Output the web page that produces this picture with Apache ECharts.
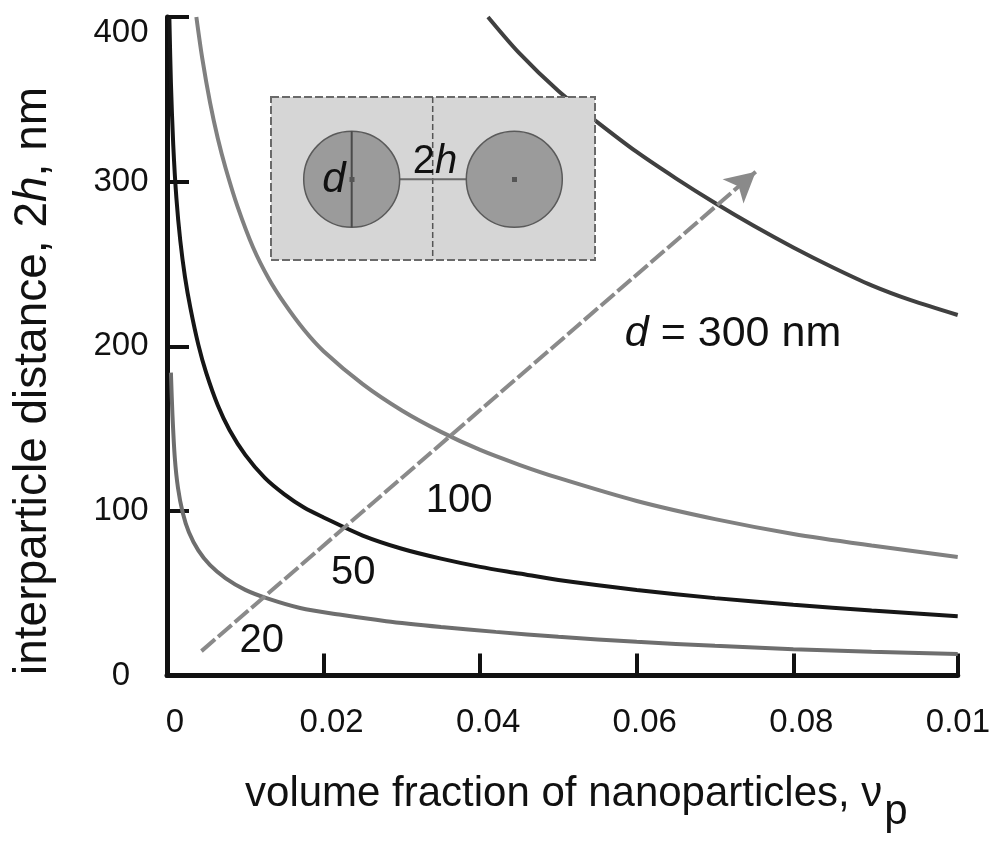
<!DOCTYPE html>
<html><head><meta charset="utf-8">
<script src="https://cdn.jsdelivr.net/npm/echarts@6/dist/echarts.min.js"></script>
<style>html,body{margin:0;padding:0;background:#fff}#c{width:993px;height:846px}</style>
</head><body><div id="c"></div>
<script>
// ---- data ----
const xTickValues = [0, 0.02, 0.04, 0.06, 0.08, 0.1];
const xTickLabels = ['0', '0.02', '0.04', '0.06', '0.08', '0.01'];
const yTickValues = [0, 100, 200, 300, 400];

const d20X = [0.0005, 0.0007, 0.001, 0.0014, 0.002, 0.0028, 0.004, 0.0055, 0.0075, 0.01, 0.013, 0.017, 0.022, 0.028, 0.035, 0.042, 0.05, 0.06, 0.07, 0.08, 0.09, 0.101];
const d20Y = [184, 158, 132, 114, 99, 87, 76, 67, 59, 52, 46.5, 41, 37, 33, 29.5, 26.5, 23.5, 20.5, 18, 16, 14.5, 13];

const d50X = [0.0003, 0.0005, 0.0008, 0.0012, 0.0017, 0.0023, 0.003, 0.004, 0.005, 0.0065, 0.008, 0.01, 0.0125, 0.015, 0.0175, 0.02, 0.025, 0.03, 0.035, 0.04, 0.045, 0.05, 0.06, 0.07, 0.08, 0.09, 0.101];
const d50Y = [400, 360, 322, 290, 264, 242, 223, 201, 184, 164, 149, 134, 120, 110, 102, 96, 85, 77, 71, 66, 62, 58, 52, 47, 43, 39.5, 36];

const d100X = [0.00375, 0.0045, 0.0055, 0.0065, 0.0075, 0.009, 0.011, 0.013, 0.015, 0.0175, 0.02, 0.025, 0.03, 0.035, 0.04, 0.045, 0.05, 0.06, 0.07, 0.08, 0.09, 0.101];
const d100Y = [400, 375, 348, 326, 308, 285, 260, 241, 226, 210, 197, 177, 161, 148, 137, 128, 120, 106, 95, 86, 79, 72];

const d300X = [0.041, 0.045, 0.05, 0.055, 0.06, 0.065, 0.07, 0.075, 0.08, 0.085, 0.09, 0.095, 0.101];
const d300Y = [400, 378, 355, 336, 318, 302, 287, 273, 260, 248, 237, 228, 219];

const arrowStart = [0.0044, 14.8];
const arrowEnd = [0.0752, 306];

const curveLabels = ['20', '50', '100'];
const curveLabelPos = [[0.0121, 21.2], [0.0238, 62.5], [0.0373, 106]];
const bigLabelPos = [0.0723, 207.6];

// ---- chart ----
const FONT = 'Liberation Sans, Arial, sans-serif';
const zip = (xs, ys) => xs.map((x, i) => [x, ys[i]]);
const chart = echarts.init(document.getElementById('c'), null, {renderer: 'canvas'});

function lineSeries(name, xs, ys, color) {
  return {
    name, type: 'line', data: zip(xs, ys), showSymbol: false, smooth: 0.3,
    lineStyle: {color, width: 4}, z: 3, silent: true
  };
}

const series = [
  lineSeries('d20', d20X, d20Y, '#6e6e6e'),
  lineSeries('d50', d50X, d50Y, '#161616'),
  lineSeries('d100', d100X, d100Y, '#808080'),
  lineSeries('d300', d300X, d300Y, '#404040')
];
series[0].markLine = {
  silent: true, symbol: ['none', 'arrow'], symbolSize: [24, 30],
  label: {show: false},
  lineStyle: {color: '#8a8a8a', width: 4, type: [18, 4]},
  data: [[{coord: arrowStart}, {coord: arrowEnd}]]
};

chart.setOption({
  animation: false,
  backgroundColor: '#ffffff',
  grid: {left: 167, right: 25.5, top: 17, bottom: 170.5, containLabel: false},
  xAxis: {
    type: 'value', min: 0, max: 0.101,
    name: '{a|volume fraction of nanoparticles, ν}{s|p}',
    nameLocation: 'middle', nameGap: 98,
    nameTextStyle: {
      padding: [0, 0, 0, 28],
      rich: {
        a: {fontFamily: FONT, fontSize: 42, color: '#111', lineHeight: 46, verticalAlign: 'top'},
        s: {fontFamily: FONT, fontSize: 42, color: '#111', lineHeight: 46, padding: [18, 0, 0, 2], verticalAlign: 'top'}
      }
    },
    axisLine: {lineStyle: {color: '#111', width: 5}},
    axisTick: {show: true, inside: true, length: 22, lineStyle: {color: '#111', width: 4},
               customValues: [0.02, 0.04, 0.06, 0.08, 0.101]},
    axisLabel: {
      customValues: xTickValues,
      formatter: v => { const i = xTickValues.findIndex(t => Math.abs(t - v) < 1e-9); return i >= 0 ? xTickLabels[i] : ''; },
      fontFamily: FONT, fontSize: 33, color: '#111', margin: 31, padding: [0, 0, 0, 16]
    },
    splitLine: {show: false}
  },
  yAxis: {
    type: 'value', min: 0, max: 400, interval: 100,
    axisLine: {show: true, lineStyle: {color: '#111', width: 5}},
    axisTick: {show: true, inside: true, length: 22, lineStyle: {color: '#111', width: 4}},
    axisLabel: {
      formatter: v => v === 400 ? '{t|400}' : '{n|' + v + '}',
      align: 'center', margin: 46,
      rich: {
        t: {fontFamily: FONT, fontSize: 33, color: '#111', padding: [32, 0, 0, 0]},
        n: {fontFamily: FONT, fontSize: 33, color: '#111'}
      }
    },
    splitLine: {show: false}
  },
  series
});

// annotation texts and inset sketch
const g = [];
curveLabels.forEach((t, i) => {
  const p = chart.convertToPixel({gridIndex: 0}, curveLabelPos[i]);
  g.push({type: 'text', x: p[0], y: p[1], z: 20,
    style: {text: t, fontFamily: FONT, fontSize: 40, fill: '#111', align: 'center', verticalAlign: 'middle'}});
});
const bp = chart.convertToPixel({gridIndex: 0}, bigLabelPos);
g.push({type: 'text', x: bp[0], y: bp[1], z: 20,
  style: {text: '{i|d}{n| = 300 nm}', align: 'center', verticalAlign: 'middle',
    rich: {i: {fontFamily: FONT, fontStyle: 'italic', fontSize: 43, fill: '#111'},
           n: {fontFamily: FONT, fontSize: 43, fill: '#111'}}}});
// y axis title
g.push({type: 'text', x: 33, y: 381, rotation: Math.PI / 2, z: 20,
  style: {text: '{a|interparticle distance, 2}{i|h}{a|, nm}', align: 'center', verticalAlign: 'middle',
    rich: {a: {fontFamily: FONT, fontSize: 46, fill: '#111'},
           i: {fontFamily: FONT, fontStyle: 'italic', fontSize: 46, fill: '#111'}}}});
// inset
g.push({type: 'group', z: 30, children: [
  {type: 'rect', shape: {x: 271, y: 97, width: 324, height: 163}, z: 30,
   style: {fill: '#d6d6d6', stroke: '#6a6a6a', lineWidth: 2, lineDash: [8, 3]}},
  {type: 'line', shape: {x1: 432.7, y1: 97, x2: 432.7, y2: 260}, z: 31,
   style: {stroke: '#555', lineWidth: 1.5, lineDash: [6, 3]}},
  {type: 'line', shape: {x1: 399, y1: 179.3, x2: 467, y2: 179.3}, z: 31,
   style: {stroke: '#6a6a6a', lineWidth: 2}},
  {type: 'circle', shape: {cx: 351.7, cy: 179.3, r: 48}, z: 32,
   style: {fill: '#9b9b9b', stroke: '#5a5a5a', lineWidth: 1.5}},
  {type: 'circle', shape: {cx: 514.3, cy: 179.3, r: 48}, z: 32,
   style: {fill: '#9b9b9b', stroke: '#5a5a5a', lineWidth: 1.5}},
  {type: 'line', shape: {x1: 351.7, y1: 131.3, x2: 351.7, y2: 227.3}, z: 33,
   style: {stroke: '#4a4a4a', lineWidth: 2}},
  {type: 'rect', shape: {x: 349.5, y: 177, width: 5, height: 5}, z: 34, style: {fill: '#555'}},
  {type: 'rect', shape: {x: 512, y: 177, width: 5, height: 5}, z: 34, style: {fill: '#555'}},
  {type: 'text', x: 334, y: 180, z: 35,
   style: {text: 'd', fontFamily: FONT, fontStyle: 'italic', fontSize: 42, fill: '#111', align: 'center', verticalAlign: 'middle'}},
  {type: 'text', x: 435, y: 162, z: 35,
   style: {text: '{a|2}{i|h}', align: 'center', verticalAlign: 'middle',
     rich: {a: {fontFamily: FONT, fontSize: 40, fill: '#111'},
            i: {fontFamily: FONT, fontStyle: 'italic', fontSize: 40, fill: '#111'}}}}
]});
chart.setOption({graphic: g});
</script>
</body></html>
